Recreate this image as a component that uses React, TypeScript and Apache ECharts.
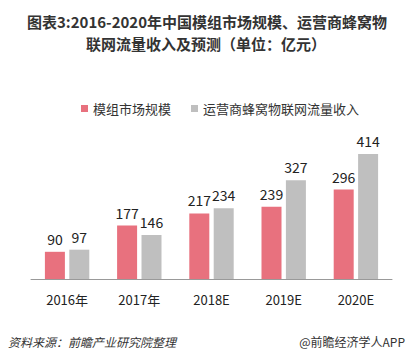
import React, { useEffect, useRef } from "react";
import * as echarts from "echarts";

const categories = ["2016年", "2017年", "2018E", "2019E", "2020E"];
const moduleMarket = [90, 177, 217, 239, 296];
const operatorRevenue = [97, 146, 234, 327, 414];
const seriesNames = ["模组市场规模", "运营商蜂窝物联网流量收入"];

const titleLines = ["图表3:2016-2020年中国模组市场规模、运营商蜂窝物", "联网流量收入及预测（单位：亿元）"];
const sourceText = "资料来源：前瞻产业研究院整理";
const brandText = "@前瞻经济学人APP";

const FONT = "'Microsoft YaHei', 'Noto Sans CJK SC', sans-serif";

export default function App() {
  const ref = useRef<HTMLDivElement>(null);
  useEffect(() => {
    if (!ref.current) return;
    const chart = echarts.init(ref.current, undefined, { renderer: "svg" });
    const label = {
      show: true,
      position: "top" as const,
      distance: 6,
      color: "#222",
      fontSize: 14,
      fontFamily: FONT,
    };
    const titleStyle = {
      fontSize: 15,
      fontWeight: "bold",
      fill: "#333",
      fontFamily: FONT,
      align: "center",
      verticalAlign: "middle",
    };
    chart.setOption({
      animation: false,
      backgroundColor: "#fff",
      textStyle: { fontFamily: FONT },
      graphic: [
        {
          type: "text",
          x: 207,
          y: 21,
          style: { ...titleStyle, text: titleLines[0] },
        },
        {
          type: "text",
          x: 206,
          y: 43,
          style: { ...titleStyle, text: titleLines[1] },
        },
        {
          type: "text",
          left: 8,
          top: 335,
          style: {
            text: sourceText,
            fontSize: 12,
            fontStyle: "italic",
            fill: "#333",
            fontFamily: FONT,
          },
        },
        {
          type: "text",
          right: 10,
          top: 335,
          style: {
            text: brandText,
            fontSize: 12,
            fill: "#333",
            fontFamily: FONT,
          },
        },
      ],
      legend: {
        top: 97,
        left: 76,
        itemWidth: 7,
        itemHeight: 7,
        itemGap: 20,
        icon: "rect",
        textStyle: { fontSize: 13, color: "#333", fontFamily: FONT },
        data: seriesNames,
      },
      grid: { left: 31, right: 23, top: 143, bottom: 80 },
      xAxis: {
        type: "category",
        data: categories,
        axisLine: { show: true, lineStyle: { color: "#999", width: 1 } },
        axisTick: { show: false },
        axisLabel: { color: "#222", fontSize: 13, margin: 14, fontFamily: FONT },
      },
      yAxis: {
        type: "value",
        min: 0,
        max: 450,
        show: false,
        splitLine: { show: false },
      },
      series: [
        {
          name: seriesNames[0],
          type: "bar",
          data: moduleMarket,
          barWidth: 20,
          barGap: "22%",
          itemStyle: { color: "#E8717E" },
          label,
        },
        {
          name: seriesNames[1],
          type: "bar",
          data: operatorRevenue,
          barWidth: 20,
          itemStyle: { color: "#BFBFBF" },
          label,
        },
      ],
    });
    return () => chart.dispose();
  }, []);
  return <div ref={ref} style={{ width: 415, height: 359, margin: -8 }} />;
}
